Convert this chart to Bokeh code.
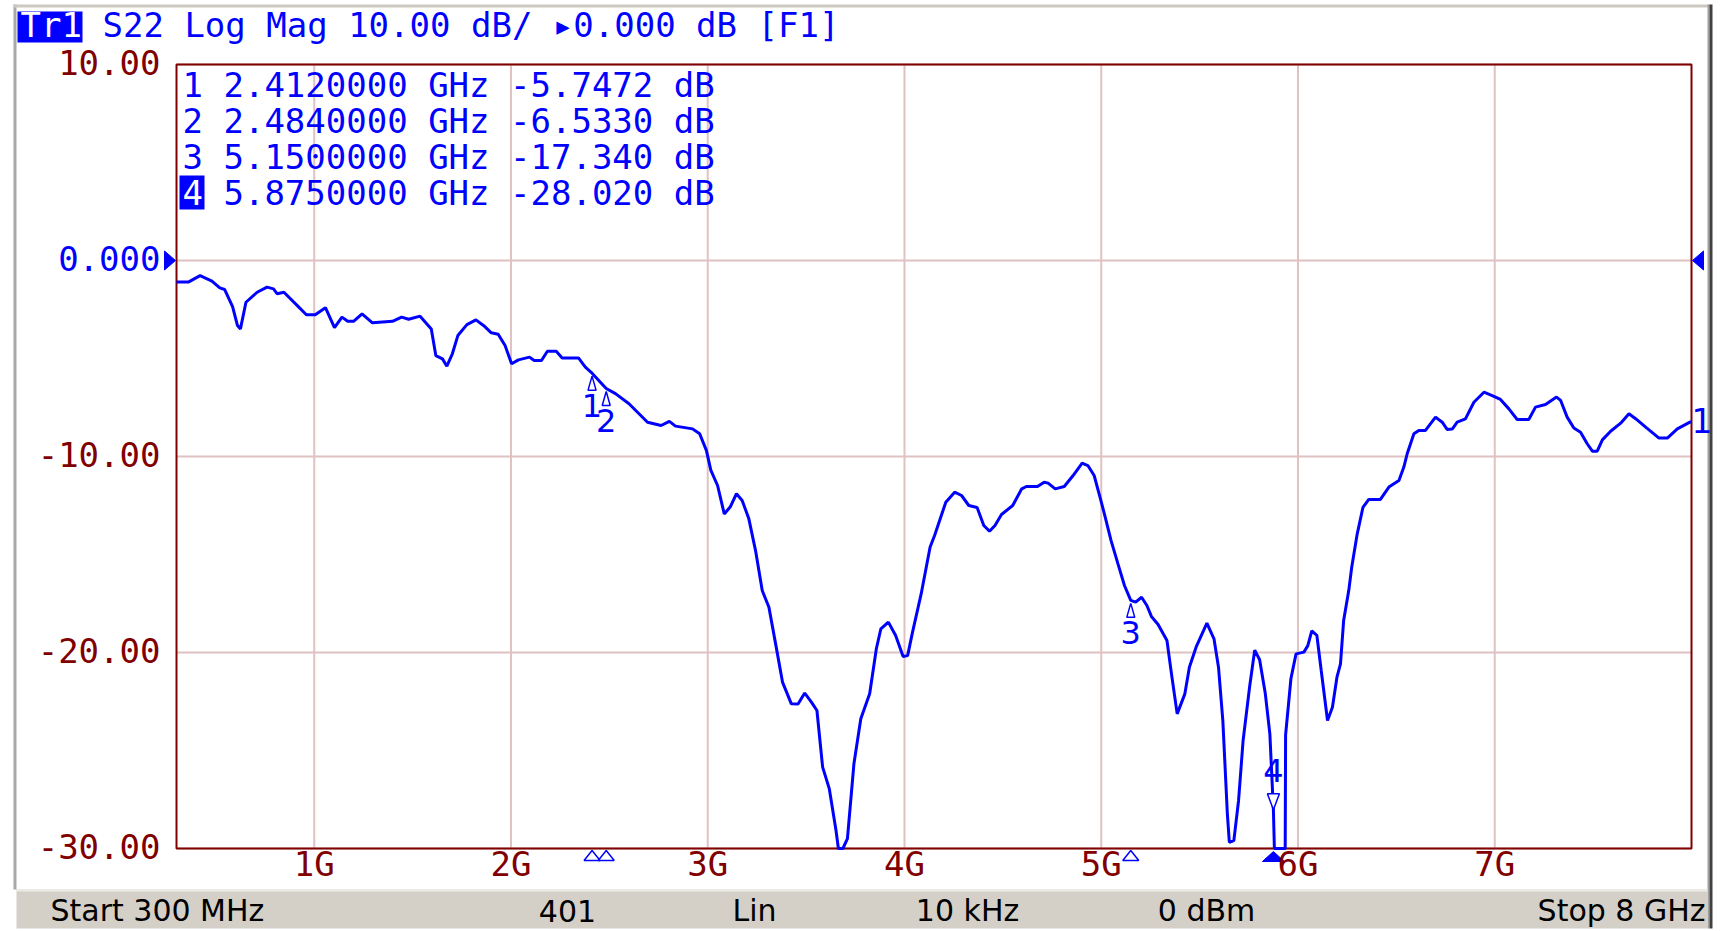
from bokeh.plotting import figure
from bokeh.models import ColumnDataSource, Label, LabelSet, BoxAnnotation, Range1d
from bokeh.core.properties import value
from bokeh.embed import file_html
from bokeh.resources import INLINE

# ------------------------------------------------------------------ data
freq_ghz = [
    0.300, 0.360, 0.420, 0.480, 0.520, 0.545, 0.585, 0.610, 0.625, 0.653,
    0.710, 0.760, 0.793, 0.812, 0.846, 0.914, 0.960, 1.005, 1.057, 1.103,
    1.141, 1.170, 1.200, 1.243, 1.296, 1.398, 1.444, 1.480, 1.538, 1.595,
    1.618, 1.652, 1.674, 1.702, 1.730, 1.776, 1.822, 1.867, 1.900, 1.935,
    1.970, 2.003, 2.038, 2.094, 2.118, 2.155, 2.185, 2.230, 2.260, 2.343,
    2.378, 2.412, 2.484, 2.531, 2.600, 2.638, 2.694, 2.763, 2.805, 2.836,
    2.923, 2.959, 2.993, 3.016, 3.050, 3.084, 3.114, 3.146, 3.175, 3.209,
    3.243, 3.277, 3.311, 3.345, 3.380, 3.425, 3.459, 3.493, 3.527, 3.555,
    3.584, 3.618, 3.652, 3.664, 3.687, 3.710, 3.743, 3.778, 3.823, 3.857,
    3.880, 3.918, 3.955, 3.993, 4.016, 4.039, 4.085, 4.130, 4.153, 4.210,
    4.255, 4.290, 4.327, 4.369, 4.403, 4.432, 4.460, 4.493, 4.550, 4.596,
    4.619, 4.676, 4.710, 4.730, 4.766, 4.812, 4.857, 4.903, 4.932, 4.964,
    4.994, 5.016, 5.050, 5.085, 5.118, 5.150, 5.175, 5.205, 5.232, 5.255,
    5.289, 5.334, 5.357, 5.386, 5.425, 5.448, 5.482, 5.537, 5.573, 5.596,
    5.618, 5.641, 5.651, 5.674, 5.698, 5.721, 5.755, 5.780, 5.805, 5.834,
    5.857, 5.875, 5.880, 5.935, 5.937, 5.964, 5.990, 6.030, 6.050, 6.070,
    6.096, 6.118, 6.150, 6.175, 6.198, 6.216, 6.232, 6.258, 6.273, 6.300,
    6.330, 6.360, 6.419, 6.462, 6.513, 6.538, 6.555, 6.589, 6.614, 6.648,
    6.699, 6.733, 6.758, 6.784, 6.809, 6.851, 6.894, 6.945, 6.987, 7.029,
    7.072, 7.114, 7.173, 7.207, 7.258, 7.314, 7.335, 7.368, 7.402, 7.436,
    7.470, 7.496, 7.521, 7.547, 7.589, 7.640, 7.682, 7.716, 7.767, 7.835,
    7.877, 7.928, 7.992, 8.000,
]
s22_db = [
    -1.10, -1.10, -0.77, -1.05, -1.40, -1.48, -2.35, -3.32, -3.49, -2.13,
    -1.62, -1.36, -1.45, -1.70, -1.62, -2.30, -2.77, -2.77, -2.41, -3.43,
    -2.89, -3.10, -3.10, -2.72, -3.18, -3.10, -2.89, -3.00, -2.84, -3.49,
    -4.85, -5.02, -5.39, -4.76, -3.83, -3.27, -3.03, -3.37, -3.69, -3.76,
    -4.34, -5.27, -5.07, -4.93, -5.10, -5.10, -4.63, -4.63, -4.97, -4.97,
    -5.44, -5.75, -6.53, -6.79, -7.31, -7.69, -8.25, -8.42, -8.21, -8.45,
    -8.59, -8.84, -9.69, -10.71, -11.48, -12.93, -12.58, -11.90, -12.24, -13.18,
    -14.80, -16.84, -17.69, -19.56, -21.51, -22.62, -22.63, -22.07, -22.53, -22.96,
    -25.85, -26.96, -29.08, -30.00, -30.00, -29.50, -25.68, -23.38, -22.10, -19.81,
    -18.79, -18.45, -19.13, -20.20, -20.16, -19.05, -17.00, -14.63, -14.03, -12.33,
    -11.82, -11.99, -12.50, -12.60, -13.52, -13.81, -13.52, -12.96, -12.50, -11.65,
    -11.53, -11.53, -11.31, -11.36, -11.65, -11.53, -10.97, -10.34, -10.46, -10.97,
    -12.08, -12.93, -14.29, -15.48, -16.58, -17.34, -17.43, -17.18, -17.60, -18.16,
    -18.57, -19.39, -21.09, -23.13, -22.11, -20.75, -19.73, -18.50, -19.30, -20.75,
    -23.47, -28.23, -29.68, -29.60, -27.55, -24.49, -21.68, -19.88, -20.37, -22.11,
    -24.15, -28.02, -30.00, -30.00, -24.20, -21.34, -20.07, -19.98, -19.65, -18.90,
    -19.13, -20.92, -23.47, -22.79, -21.26, -20.58, -18.37, -16.84, -15.65, -14.00,
    -12.60, -12.19, -12.19, -11.56, -11.22, -10.54, -9.86, -8.84, -8.67, -8.67,
    -7.99, -8.25, -8.62, -8.60, -8.25, -8.08, -7.23, -6.72, -6.89, -7.09,
    -7.57, -8.11, -8.11, -7.48, -7.35, -6.97, -7.14, -7.99, -8.55, -8.76,
    -9.35, -9.73, -9.73, -9.15, -8.71, -8.30, -7.82, -8.07, -8.50, -9.06,
    -9.06, -8.59, -8.25, -8.22,
]

marker_ids = ["1", "2", "3", "4"]
marker_freq_ghz = [2.412, 2.484, 5.150, 5.875]
marker_db = [-5.7472, -6.5330, -17.340, -28.020]
active_marker = 3  # marker "4" is the active one

x_ticks = [1, 2, 3, 4, 5, 6, 7]
x_tick_labels = ["1G", "2G", "3G", "4G", "5G", "6G", "7G"]
y_ticks = [10, 0, -10, -20, -30]
y_tick_labels = ["10.00", "0.000", "-10.00", "-20.00", "-30.00"]
ref_level_db = 0

trace_name = "Tr1"
header_text = "S22 Log Mag 10.00 dB/ \u25b80.000 dB [F1]"
status_texts = ["Start 300 MHz", "401", "Lin", "10 kHz", "0 dBm", "Stop 8 GHz"]

x_start, x_stop = 0.3, 8.0
y_bottom, y_top = -30.0, 10.0

# ------------------------------------------------------------------ layout
W, H = 1727, 931
PLOT_L, PLOT_R, PLOT_T, PLOT_B = 176, 1691, 64, 848
PXX = (PLOT_R - PLOT_L) / (x_stop - x_start)   # pixels per GHz
PXY = (PLOT_B - PLOT_T) / (y_top - y_bottom)   # pixels per dB


def dx(px):
    """canvas pixel x -> data x (used only for decorations)"""
    return x_start + (px - PLOT_L) / PXX


def dy(py):
    return y_top - (py - PLOT_T) / PXY


BLUE = "#0000ff"
DARKRED = "#800000"
GRID = "#e0c2c2"
MONO = "DejaVu Sans Mono"
SANS = "DejaVu Sans"

p = figure(width=W, height=H, title=None,
           x_range=Range1d(dx(0), dx(W)), y_range=Range1d(dy(H), dy(0)),
           x_axis_location=None, y_axis_location=None,
           output_backend="svg", toolbar_location=None)
p.min_border_left = p.min_border_right = 0
p.min_border_top = p.min_border_bottom = 0
p.outline_line_color = None
p.background_fill_color = "white"
p.border_fill_color = "white"
p.grid.visible = False


def box(l, r, t, b, color, level="underlay"):
    p.add_layout(BoxAnnotation(left=dx(l), right=dx(r), top=dy(t), bottom=dy(b),
                               fill_color=color, fill_alpha=1, line_color=None,
                               level=level))


# ---- window frame and status bar
box(13, 16, 4, 889, "#a8a8a8")
box(13, 1710, 4, 7, "#cdc9c1")
box(1707, 1709, 4, 928, "#a0a0a0")
box(1709, 1712, 4, 928, "#404040")
box(16, 1707, 889, 928, "#d4d0c8")
box(16, 1707, 889, 891, "#ecebe6")

# ---- grid and plot border (through the data scales)
p.segment(x0=x_ticks, y0=[y_bottom] * len(x_ticks), x1=x_ticks,
          y1=[y_top] * len(x_ticks), line_color=GRID, line_width=2)
p.segment(x0=[x_start] * len(y_ticks), y0=y_ticks, x1=[x_stop] * len(y_ticks),
          y1=y_ticks, line_color=GRID, line_width=2)
p.quad(left=[x_start], right=[x_stop], bottom=[y_bottom], top=[y_top],
       fill_color=None, line_color=DARKRED, line_width=2)

# ---- tick labels
xsrc = ColumnDataSource(dict(x=x_ticks, y=[y_bottom] * len(x_ticks), t=x_tick_labels))
p.add_layout(LabelSet(x="x", y="y", text="t", source=xsrc, y_offset=-15,
                      text_align="center", text_baseline="middle",
                      text_font=value(MONO), text_font_size="34px",
                      text_color=DARKRED))
ysrc = ColumnDataSource(dict(
    x=[x_start] * (len(y_ticks) - 1),
    y=[t for t in y_ticks if t != ref_level_db],
    t=[s for t, s in zip(y_ticks, y_tick_labels) if t != ref_level_db]))
p.add_layout(LabelSet(x="x", y="y", text="t", source=ysrc, x_offset=-16, y_offset=2,
                      text_align="right", text_baseline="middle",
                      text_font=value(MONO), text_font_size="34px",
                      text_color=DARKRED))
p.add_layout(Label(x=x_start, y=ref_level_db, x_offset=-16, y_offset=2,
                   text=y_tick_labels[y_ticks.index(ref_level_db)],
                   text_align="right", text_baseline="middle", text_font=MONO,
                   text_font_size="34px", text_color=BLUE))

# reference-level triangles on both sides
ht = 9.5 / PXY
p.patch([x_start - 12 / PXX, x_start - 1 / PXX, x_start - 12 / PXX],
        [ref_level_db + ht, ref_level_db, ref_level_db - ht],
        fill_color=BLUE, line_color=BLUE, line_width=1)
p.patch([x_stop + 12 / PXX, x_stop + 1 / PXX, x_stop + 12 / PXX],
        [ref_level_db + ht, ref_level_db, ref_level_db - ht],
        fill_color=BLUE, line_color=BLUE, line_width=1)

# ---- trace
p.line(freq_ghz, s22_db, line_color=BLUE, line_width=3)

# trace number at the right end
p.add_layout(Label(x=x_stop, y=s22_db[-1], x_offset=0, y_offset=1,
                   text=trace_name[-1], text_align="left", text_baseline="middle",
                   text_font=SANS, text_font_size="33px", text_color=BLUE))

# ---- header line
box(17, 82, 11, 42, BLUE)
p.add_layout(Label(x=dx(20), y=dy(24), text=trace_name, text_align="left",
                   text_baseline="middle", text_font=MONO, text_font_size="34px",
                   text_color="white"))
p.add_layout(Label(x=dx(102), y=dy(24), text=header_text, text_align="left",
                   text_baseline="middle", text_font=MONO, text_font_size="34px",
                   text_color=BLUE))


# ---- marker table
def fmt_db(v):
    return f"{v:.4f}" if abs(v) < 10 else f"{v:.3f}"


box(179, 204, 175, 209, BLUE)
for i, (mid, mf, md) in enumerate(zip(marker_ids, marker_freq_ghz, marker_db)):
    row = f"{mid} {mf:.7f} GHz {fmt_db(md)} dB"
    yrow = dy(84 + i * 36)
    p.add_layout(Label(x=dx(182), y=yrow, text=row, text_align="left",
                       text_baseline="middle", text_font=MONO,
                       text_font_size="34px", text_color=BLUE))
    if i == active_marker:
        p.add_layout(Label(x=dx(182), y=yrow, text=mid, text_align="left",
                           text_baseline="middle", text_font=MONO,
                           text_font_size="34px", text_color="white"))

# ---- markers on the trace
pas = [i for i in range(len(marker_ids)) if i != active_marker]
a = active_marker
tri_xs, tri_ys = [], []
for i in pas:
    f, d = marker_freq_ghz[i], marker_db[i]
    tri_xs.append([f - 4 / PXX, f, f + 4 / PXX])
    tri_ys.append([d - 17 / PXY, d - 3 / PXY, d - 17 / PXY])
p.patches(tri_xs, tri_ys, fill_color="white", line_color=BLUE, line_width=1.5)
fa, da = marker_freq_ghz[a], marker_db[a]
p.patch([fa - 6 / PXX, fa, fa + 6 / PXX], [da + 16 / PXY, da, da + 16 / PXY],
        fill_color="white", line_color=BLUE, line_width=1.5)

msrc_p = ColumnDataSource(dict(f=[marker_freq_ghz[i] for i in pas],
                               d=[marker_db[i] for i in pas],
                               t=[marker_ids[i] for i in pas]))
msrc_a = ColumnDataSource(dict(f=[fa], d=[da], t=[marker_ids[a]]))
p.add_layout(LabelSet(x="f", y="d", text="t", source=msrc_p, y_offset=-32,
                      text_align="center", text_baseline="middle",
                      text_font=value(SANS), text_font_size="32px",
                      text_color=BLUE))
p.add_layout(LabelSet(x="f", y="d", text="t", source=msrc_a, y_offset=39,
                      text_align="center", text_baseline="middle",
                      text_font=value(SANS), text_font_size="32px",
                      text_color=BLUE))

# ---- marker indicators under the bottom edge
edge_xs, edge_ys = [], []
for i in pas:
    f = marker_freq_ghz[i]
    edge_xs.append([f - 8 / PXX, f, f + 8 / PXX])
    edge_ys.append([y_bottom - 12 / PXY, y_bottom - 2 / PXY, y_bottom - 12 / PXY])
p.patches(edge_xs, edge_ys, fill_color="white", line_color=BLUE, line_width=1.5)
p.patch([fa - 11 / PXX, fa, fa + 11 / PXX],
        [y_bottom - 13 / PXY, y_bottom - 3 / PXY, y_bottom - 13 / PXY],
        fill_color=BLUE, line_color=BLUE, line_width=1)

# ---- status bar texts
status_x = [50, 567, 754, 967, 1206, 1705]
status_align = ["left", "center", "center", "center", "center", "right"]
for t, sx, al in zip(status_texts, status_x, status_align):
    p.add_layout(Label(x=dx(sx), y=dy(910), text=t, text_align=al,
                       text_baseline="middle", text_font=SANS,
                       text_font_size="30px", text_color="black"))

open("out.html", "w").write(file_html(p, INLINE))
